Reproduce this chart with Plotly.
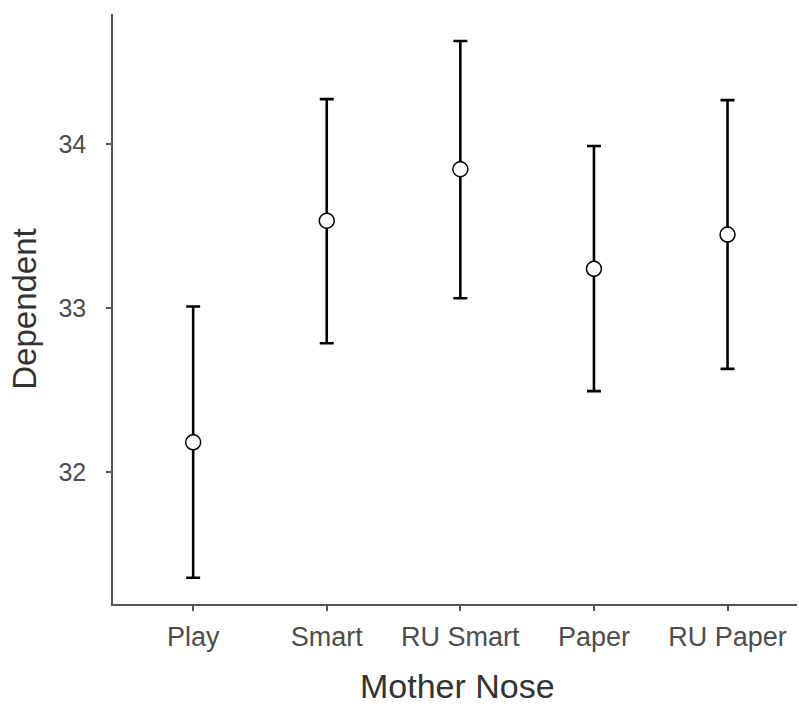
import plotly.graph_objects as go

# Group means with upper/lower interval bounds
groups = ["Play", "Smart", "RU Smart", "Paper", "RU Paper"]
means = [32.181, 33.532, 33.846, 33.239, 33.448]
upper = [33.009, 34.274, 34.628, 33.988, 34.268]
lower = [31.355, 32.785, 33.060, 32.493, 32.629]

err_plus = [u - m for u, m in zip(upper, means)]
err_minus = [m - l for m, l in zip(means, lower)]

x_pos = list(range(len(groups)))

fig = go.Figure()
fig.add_trace(go.Scatter(
    x=x_pos, y=means, mode="markers",
    marker=dict(symbol="circle", size=15, color="white",
                line=dict(color="black", width=1.5)),
    error_y=dict(type="data", symmetric=False, array=err_plus,
                 arrayminus=err_minus, color="black", thickness=2.6, width=7),
    showlegend=False,
))

font_family = "Liberation Sans, Arial, sans-serif"

fig.update_layout(
    width=799, height=704,
    margin=dict(l=113, r=2, t=14, b=100),
    paper_bgcolor="white", plot_bgcolor="white",
    xaxis=dict(
        range=[-0.6, 4.52], tickmode="array", tickvals=x_pos, ticktext=groups,
        showgrid=False, zeroline=False, showline=True, linecolor="#555555", linewidth=1.6,
        ticks="outside", ticklen=5, tickwidth=1.6, tickcolor="#555555",
        tickfont=dict(family=font_family, size=27, color="#4d4d4d"), ticklabelstandoff=3,
    ),
    yaxis=dict(
        range=[31.195, 34.793], tickvals=[32, 33, 34],
        showgrid=False, zeroline=False, showline=True, linecolor="#555555", linewidth=1.6,
        ticks="outside", ticklen=5, tickwidth=1.6, tickcolor="#555555",
        tickfont=dict(family=font_family, size=25, color="#4d4d4d"), ticklabelstandoff=15,
        title=dict(text="Dependent", font=dict(family=font_family, size=33, color="#333333"),
                   standoff=12),
    ),
    annotations=[dict(
        text="Mother Nose", xref="paper", yref="paper", x=0.503, y=-0.139,
        xanchor="center", yanchor="middle", showarrow=False,
        font=dict(family=font_family, size=34, color="#333333"),
    )],
)

fig.write_html("out.html")
